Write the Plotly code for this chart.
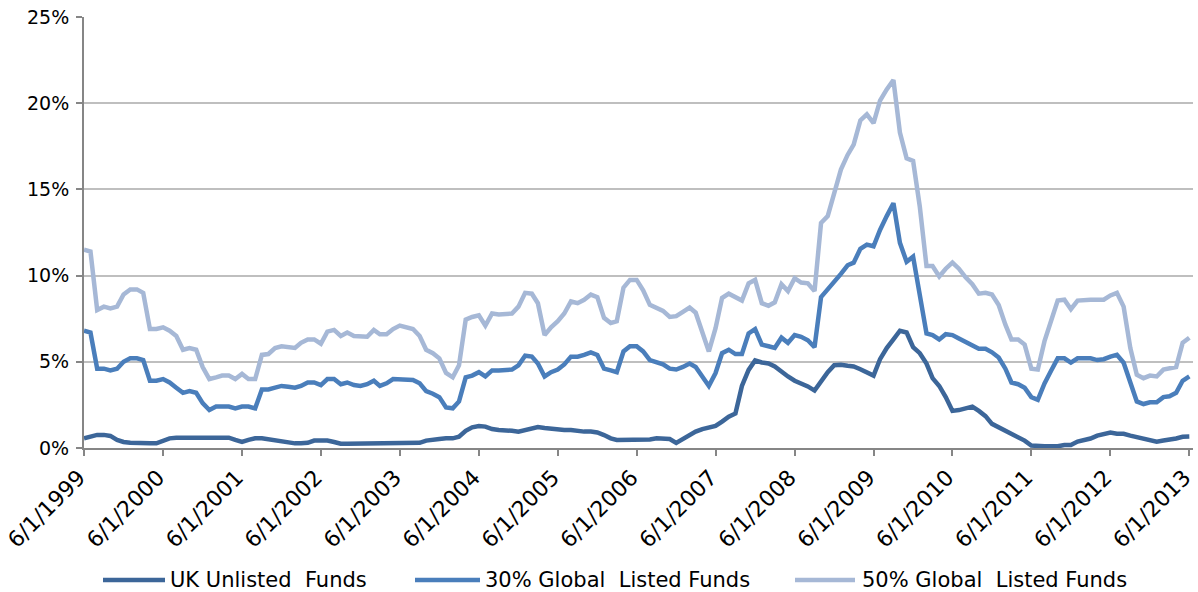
import pandas as pd
import plotly.graph_objects as go

dates = pd.date_range("1999-06-01", "2013-06-01", freq="MS")

uk_unlisted = [
    0.56, 0.66, 0.76, 0.76, 0.7, 0.47, 0.35, 0.3, 0.27, 0.27, 0.27, 0.27, 0.43, 0.56,
    0.6, 0.6, 0.6, 0.6, 0.6, 0.6, 0.6, 0.6, 0.6, 0.47, 0.35, 0.47, 0.56, 0.56,
    0.5, 0.43, 0.33, 0.27, 0.27, 0.27, 0.3, 0.43, 0.43, 0.43, 0.35, 0.25, 0.25, 0.25,
    0.25, 0.25, 0.25, 0.25, 0.25, 0.25, 0.25, 0.25, 0.25, 0.3, 0.43, 0.5, 0.52, 0.56,
    0.56, 0.65, 1.0, 1.2, 1.28, 1.24, 1.1, 1.05, 1.05, 1.0, 0.95, 1.03, 1.12, 1.22,
    1.16, 1.12, 1.05, 1.05, 1.05, 0.97, 0.95, 0.95, 0.9, 0.75, 0.56, 0.47, 0.47, 0.47,
    0.47, 0.47, 0.5, 0.56, 0.56, 0.52, 0.3, 0.54, 0.74, 0.95, 1.1, 1.22, 1.28, 1.53,
    1.82, 2.0, 3.6, 4.53, 5.08, 4.96, 4.9, 4.73, 4.4, 4.15, 3.9, 3.76, 3.57, 3.33,
    3.85, 4.4, 4.8, 4.83, 4.77, 4.73, 4.57, 4.4, 4.2, 5.15, 5.8, 6.3, 6.8, 6.7,
    5.85, 5.5, 4.9, 4.05, 3.6, 2.95, 2.15, 2.2, 2.3, 2.4, 2.15, 1.85, 1.4, 1.2,
    1.0, 0.8, 0.65, 0.43, 0.14, 0.1, 0.1, 0.1, 0.1, 0.17, 0.17, 0.37, 0.45, 0.55,
    0.72, 0.83, 0.9, 0.83, 0.82, 0.72, 0.62, 0.55, 0.43, 0.37, 0.43, 0.47, 0.55, 0.65, 0.66,
]

global_30 = [
    6.8, 6.7, 4.6, 4.6, 4.5, 4.6, 5.0, 5.2, 5.2, 5.1, 3.9, 3.9, 4.0, 3.8,
    3.5, 3.2, 3.3, 3.2, 2.6, 2.2, 2.4, 2.4, 2.4, 2.3, 2.4, 2.4, 2.3, 3.4,
    3.4, 3.5, 3.6, 3.55, 3.5, 3.6, 3.8, 3.8, 3.65, 4.0, 4.0, 3.7, 3.8, 3.65,
    3.6, 3.7, 3.9, 3.6, 3.75, 4.0, 4.0, 4.0, 3.95, 3.75, 3.3, 3.15, 2.95, 2.35,
    2.3, 2.7, 4.1, 4.2, 4.4, 4.15, 4.5, 4.5, 4.55, 4.55, 4.8, 5.35, 5.3, 4.9,
    4.15, 4.4, 4.55, 4.85, 5.3, 5.3, 5.4, 5.55, 5.4, 4.6, 4.5, 4.4, 5.6, 5.9,
    5.9, 5.6, 5.1, 4.95, 4.85, 4.6, 4.55, 4.7, 4.9, 4.7, 4.15, 3.6, 4.35, 5.5,
    5.7, 5.45, 5.45, 6.65, 6.9, 6.0, 5.9, 5.8, 6.4, 6.1, 6.55, 6.45, 6.25, 5.85,
    8.75, 9.2, 9.55, 10.1, 10.6, 10.75, 11.55, 11.8, 11.7, 12.65, 13.45, 14.2, 11.9, 10.8,
    11.1, 8.8, 6.65, 6.55, 6.3, 6.6, 6.55, 6.35, 6.15, 5.95, 5.75, 5.75, 5.55, 5.25,
    4.6, 3.8, 3.7, 3.5, 2.95, 2.8, 3.75, 4.5, 5.2, 5.2, 4.95, 5.2, 5.2, 5.2,
    5.1, 5.15, 5.3, 5.4, 4.95, 3.85, 2.7, 2.55, 2.65, 2.65, 2.95, 3.0, 3.2, 3.9, 4.15,
]

global_50 = [
    11.5, 11.4, 8.0, 8.2, 8.1, 8.2, 8.9, 9.2, 9.2, 9.0, 6.9, 6.9, 7.0, 6.8,
    6.5, 5.7, 5.8, 5.7, 4.7, 4.0, 4.1, 4.2, 4.2, 4.0, 4.3, 4.0, 4.0, 5.4,
    5.45, 5.8, 5.9, 5.85, 5.8, 6.1, 6.3, 6.3, 6.05, 6.75, 6.85, 6.5, 6.7, 6.5,
    6.45, 6.45, 6.85, 6.6, 6.6, 6.9, 7.1, 7.0, 6.9, 6.5, 5.7, 5.5, 5.2, 4.35,
    4.1, 4.8, 7.45, 7.6, 7.7, 7.1, 7.8, 7.75, 7.8, 7.8, 8.2, 9.0, 8.95, 8.4,
    6.55, 7.0, 7.35, 7.8, 8.5, 8.4, 8.6, 8.9, 8.75, 7.55, 7.25, 7.35, 9.3, 9.75,
    9.75, 9.15, 8.3, 8.1, 7.95, 7.6, 7.65, 7.9, 8.15, 7.85, 6.75, 5.6, 6.95, 8.7,
    8.95, 8.75, 8.55, 9.55, 9.75, 8.4, 8.25, 8.45, 9.5, 9.1, 9.85, 9.6, 9.55, 9.1,
    13.05, 13.45, 14.9, 16.15, 17.0, 17.6, 19.0, 19.35, 18.85, 20.15, 20.8, 21.35, 18.3, 16.8,
    16.65, 14.0, 10.55, 10.55, 9.95, 10.4, 10.75, 10.4, 9.9, 9.5, 8.95, 9.0, 8.9, 8.3,
    7.15, 6.3, 6.3, 6.0, 4.6, 4.55, 6.2, 7.4, 8.55, 8.6, 8.05, 8.55, 8.6, 8.6,
    8.6, 8.6, 8.85, 9.0, 8.2, 5.8, 4.25, 4.05, 4.2, 4.15, 4.55, 4.6, 4.7, 6.1, 6.4,
]

series_names = ["UK Unlisted  Funds", "30% Global  Listed Funds", "50% Global  Listed Funds"]
series_colors = ["#3C6699", "#4A7EBB", "#A6B8D6"]

tick_dates = pd.date_range("1999-06-01", "2013-06-01", freq="12MS")
tick_text = [f"{d.month}/{d.day}/{d.year}" for d in tick_dates]
y_ticks = [0, 5, 10, 15, 20, 25]
y_text = [f"{v}%" for v in y_ticks]

W, H = 1198, 592
ML, MR, MT, MB = 84, 5, 17, 144
PW, PH = W - ML - MR, H - MT - MB


def px_x(px):
    return (px - ML) / PW


def px_y(py):
    return (H - MB - py) / PH


fig = go.Figure()
for name, vals, col in zip(series_names, [uk_unlisted, global_30, global_50], series_colors):
    fig.add_trace(go.Scatter(
        x=dates, y=vals, mode="lines", name=name,
        line=dict(color=col, width=4.5), showlegend=False,
    ))

# legend drawn as long line swatches with labels (Excel style)
legend_y = px_y(580)
legend_slots = [(103, 165, 168), (415, 480, 483), (795, 855, 860)]
for (x0, x1, xt), name, col in zip(legend_slots, series_names, series_colors):
    fig.add_shape(type="line", xref="paper", yref="paper",
                  x0=px_x(x0), x1=px_x(x1), y0=legend_y, y1=legend_y,
                  line=dict(color=col, width=4.5))
    fig.add_annotation(xref="paper", yref="paper", x=px_x(xt), y=legend_y,
                       xanchor="left", yanchor="middle", showarrow=False,
                       text=name, font=dict(size=21))

font_family = "DejaVu Sans, Verdana, sans-serif"
fig.update_layout(
    width=W, height=H,
    margin=dict(l=ML, r=MR, t=MT, b=MB),
    paper_bgcolor="white", plot_bgcolor="white",
    font=dict(family=font_family, size=19, color="#000000"),
    showlegend=False,
    xaxis=dict(
        type="date", range=["1999-06-01", "2013-06-18"], automargin=False,
        tickvals=tick_dates, ticktext=tick_text, tickangle=-45,
        ticklabeloverflow="allow", ticklabelshift=-5,
        showgrid=False, showline=True, linecolor="#868686", linewidth=2,
        ticks="outside", ticklen=6, tickcolor="#868686", tickwidth=2,
        tickfont=dict(size=22), zeroline=False,
    ),
    yaxis=dict(
        range=[0, 25], tickvals=y_ticks, ticktext=y_text, automargin=False,
        ticklabelstandoff=3,
        showgrid=True, gridcolor="#BFBFBF", gridwidth=1.5,
        showline=True, linecolor="#868686", linewidth=2,
        ticks="outside", ticklen=6, tickcolor="#868686", tickwidth=2,
        tickfont=dict(size=19), zeroline=False,
    ),
)

fig.write_html("out.html", config={"displayModeBar": False},
               post_script="document.body.style.margin='0';document.body.style.overflow='hidden';")
